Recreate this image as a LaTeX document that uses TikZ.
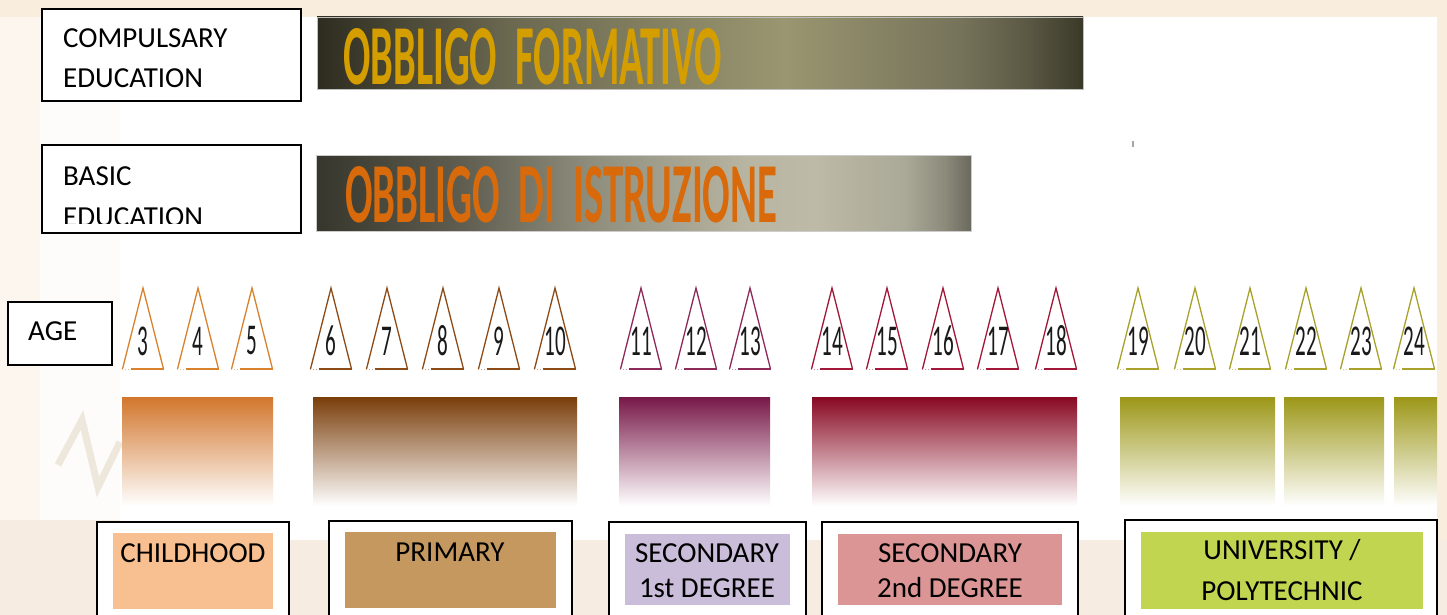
\documentclass[tikz,border=0pt]{standalone}
\usepackage{fontspec}
\setmainfont{Carlito}
\usepackage{graphicx}
\definecolor{bgbeige}{HTML}{F9EEDD}
\definecolor{bgpale}{HTML}{FCF6EE}
\definecolor{bgbottom}{HTML}{F6ECE2}
\definecolor{wmark}{HTML}{EEE7DC}
\definecolor{bA1}{HTML}{2D2C20}
\definecolor{bA2}{HTML}{4C4A38}
\definecolor{bA3}{HTML}{6A684F}
\definecolor{bA4}{HTML}{9A9671}
\definecolor{bA5}{HTML}{75735A}
\definecolor{bA6}{HTML}{5A5843}
\definecolor{bA7}{HTML}{3A3929}
\definecolor{bB1}{HTML}{36362C}
\definecolor{bB2}{HTML}{5F5D50}
\definecolor{bB3}{HTML}{8F8D7C}
\definecolor{bB4}{HTML}{B8B6A2}
\definecolor{bB5}{HTML}{BDBBA7}
\definecolor{bB6}{HTML}{AAA896}
\definecolor{bB7}{HTML}{8C8A7B}
\definecolor{bB8}{HTML}{6A695D}
\definecolor{goldtxt}{HTML}{D49E00}
\definecolor{orangetxt}{HTML}{D86A0C}
\definecolor{triA}{HTML}{D9822B}
\definecolor{triB}{HTML}{8C4A16}
\definecolor{triC}{HTML}{8E2A5A}
\definecolor{triD}{HTML}{A3183A}
\definecolor{triE}{HTML}{A8A22A}
\definecolor{recA}{HTML}{D2762C}
\definecolor{recB}{HTML}{7A3E0B}
\definecolor{recC}{HTML}{781848}
\definecolor{recD}{HTML}{880822}
\definecolor{recE}{HTML}{9C9718}
\definecolor{fillA}{HTML}{F8C090}
\definecolor{fillB}{HTML}{C4985F}
\definecolor{fillC}{HTML}{C9BDD9}
\definecolor{fillD}{HTML}{DB9594}
\definecolor{fillE}{HTML}{C2D550}
\pgfdeclarehorizontalshading{banA}{100bp}{color(0bp)=(bA1); color(25bp)=(bA1); color(31bp)=(bA2); color(37.5bp)=(bA3); color(55.5bp)=(bA4); color(67bp)=(bA5); color(71.5bp)=(bA6); color(75bp)=(bA7); color(100bp)=(bA7)}
\pgfdeclarehorizontalshading{banB}{100bp}{color(0bp)=(bB1); color(25bp)=(bB1); color(36bp)=(bB2); color(46bp)=(bB3); color(58bp)=(bB4); color(63bp)=(bB5); color(70bp)=(bB6); color(73bp)=(bB7); color(75bp)=(bB8); color(100bp)=(bB8)}
\tikzset{
  labbox/.style={draw=black, line width=1.5pt, fill=white},
  labtext/.style={font=\fontsize{29}{40}\selectfont, text=black, inner sep=0pt},
  agetri/.style={line width=1.3pt, line join=miter},
  fade/.style={top color=#1, bottom color=white, draw=none},
  stagebox/.style={draw=black, line width=1.5pt, fill=white},
}
\begin{document}
\begin{tikzpicture}[x=1pt,y=-1pt]
\useasboundingbox (0,0) rectangle (1447,615);
\clip (0,0) rectangle (1447,615);
% background
\fill[bgbeige] (0,0) rectangle (1447,615);
\fill[bgpale] (0,17) rectangle (120,520);
\fill[bgbottom] (0,520) rectangle (120,615);
\fill[bgbottom] (120,540) rectangle (1447,615);
\fill[white] (120,17) rectangle (1437,540);
\fill[white!70!bgpale] (40,17) rectangle (120,520);
\draw[wmark, line width=7pt, line join=miter] (58,465) -- (82,420) -- (98,487) -- (120,442);
% top boxes
\draw[labbox] (42,9) rectangle (301,101);
\node[labtext, anchor=base west] (comp1) at (63,48) {COMPULSARY};
\node[labtext, anchor=base west] (comp2) at (63,88) {EDUCATION};
\draw[labbox] (42,145) rectangle (301,233);
\begin{scope}
\clip (43,146) rectangle (300,223);
\node[labtext, anchor=base west] (bas1) at (63,185) {BASIC};
\node[labtext, anchor=base west] (bas2) at (63,226) {EDUCATION};
\end{scope}
% banners
\fill[shading=banA, draw=gray!50, line width=0.8pt] (317,17) rectangle (1083,89);
\node[inner sep=0pt, anchor=north west, text=goldtxt] (ban1) at (343,28)
  {\resizebox{379pt}{56pt}{\bfseries OBBLIGO\ \ FORMATIVO}};
\fill[shading=banB, draw=gray!40, line width=0.8pt] (316,155) rectangle (971,231);
\node[inner sep=0pt, anchor=north west, text=orangetxt] (ban2) at (345,166)
  {\resizebox{432pt}{56pt}{\bfseries OBBLIGO\ \ DI\ \ ISTRUZIONE}};
\draw[gray!70, line width=1.2pt] (1133,141) -- (1133,147);
% age box
\draw[labbox] (8,302) rectangle (112,365);
\node[labtext, anchor=base west] (age) at (28,340) {AGE};
% triangles
\foreach \x/\n/\c in {143/3/triA, 198/4/triA, 252/5/triA,
  331/6/triB, 387/7/triB, 443/8/triB, 499/9/triB, 555/10/triB,
  641/11/triC, 696/12/triC, 750/13/triC,
  832/14/triD, 887/15/triD, 943/16/triD, 998/17/triD, 1056/18/triD,
  1138/19/triE, 1195/20/triE, 1250/21/triE, 1306/22/triE, 1361/23/triE, 1414/24/triE} {
  \draw[agetri, draw=\c] (\x-20.5,369) -- (\x,288) -- (\x+20.5,369);
  \draw[draw=\c, line width=2.4pt] (\x-12,369) -- (\x+21,369);
  \draw[draw=\c!50, line width=1pt, dotted] (\x-21,369.5) -- (\x-12,369.5);
  \node[inner sep=0pt, text=black!90] (t\n) at (\x,341)
    {\scalebox{0.48}[1]{\fontsize{44}{44}\selectfont \n}};
}
% fading bars
\fill[fade=recA] (122,397) rectangle (273,506);
\fill[fade=recB] (313,397) rectangle (577,506);
\fill[fade=recC] (619,397) rectangle (770,506);
\fill[fade=recD] (812,397) rectangle (1077,506);
\fill[fade=recE] (1120,397) rectangle (1275,506);
\fill[fade=recE] (1284,397) rectangle (1384,506);
\fill[fade=recE] (1394,397) rectangle (1437,506);
% stage boxes
\draw[stagebox] (97,522) rectangle (289,630);
\fill[fillA] (113,533) rectangle (273,609);
\node[labtext, anchor=base] (s1) at (193,562) {CHILDHOOD};
\draw[stagebox] (329,521) rectangle (572,630);
\fill[fillB] (345,532) rectangle (556,608);
\node[labtext, anchor=base] (s2) at (450,561) {PRIMARY};
\draw[stagebox] (609,522) rectangle (806,630);
\fill[fillC] (625,534) rectangle (790,605);
\node[labtext, anchor=base] (s3a) at (707,562) {SECONDARY};
\node[labtext, anchor=base] (s3b) at (707,597) {1st DEGREE};
\draw[stagebox] (822,522) rectangle (1078,630);
\fill[fillD] (838,534) rectangle (1062,605);
\node[labtext, anchor=base] (s4a) at (950,562) {SECONDARY};
\node[labtext, anchor=base] (s4b) at (950,597) {2nd DEGREE};
\draw[stagebox] (1125,520) rectangle (1437,630);
\fill[fillE] (1141,532) rectangle (1423,609);
\node[labtext, anchor=base] (s5a) at (1282,559) {UNIVERSITY /};
\node[labtext, anchor=base] (s5b) at (1282,600) {POLYTECHNIC};
\end{tikzpicture}
\end{document}
